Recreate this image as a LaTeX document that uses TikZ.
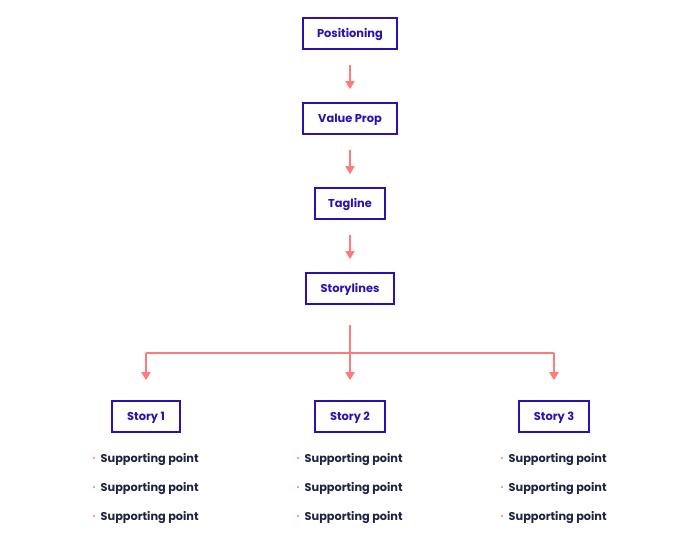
\documentclass[tikz,border=0pt]{standalone}
\usepackage{fontspec}
\setmainfont{Poppins}
\usetikzlibrary{arrows.meta}
\definecolor{boxc}{HTML}{2A12B0}
\definecolor{arrc}{HTML}{FF7A7A}
\definecolor{txtc}{HTML}{1E2340}
\tikzset{
  stepbox/.style={draw=boxc, line width=1.6pt, text=boxc, font=\fontsize{11.4}{13}\selectfont\bfseries, minimum height=31pt, inner xsep=0pt, text height=8.2pt, text depth=0pt, anchor=center},
  conn/.style={draw=arrc, line width=1.6pt, -{Triangle[width=9pt,length=8pt]}},
  line/.style={draw=arrc, line width=1.6pt},
  pt/.style={text=txtc, font=\fontsize{11.3}{13}\selectfont\bfseries, anchor=west, inner sep=0pt, text height=8.2pt, text depth=0pt},
  bul/.style={circle, fill=arrc, inner sep=0pt, minimum size=2.4pt}
}
\begin{document}
\begin{tikzpicture}[x=1pt,y=-1pt]
\useasboundingbox (0,0) rectangle (700,557);
\node[stepbox, minimum width=94pt] (pos) at (350,33.5) {Positioning};
\node[stepbox, minimum width=94pt] (val) at (350,118.5) {Value Prop};
\node[stepbox, minimum width=70pt] (tag) at (350,203.5) {Tagline};
\node[stepbox, minimum width=88pt] (sto) at (350,288.5) {Storylines};
\node[stepbox, minimum width=68pt] (s1) at (146,416.5) {Story 1};
\node[stepbox, minimum width=70pt] (s2) at (350,416.5) {Story 2};
\node[stepbox, minimum width=70pt] (s3) at (554,416.5) {Story 3};

\draw[conn] ([yshift=-15pt]pos.south) -- ([yshift=13pt]val.north);
\draw[conn] ([yshift=-15pt]val.south) -- ([yshift=13pt]tag.north);
\draw[conn] ([yshift=-15pt]tag.south) -- ([yshift=13pt]sto.north);

\coordinate (top) at (350,325);
\coordinate (j1) at (146,353);
\coordinate (j3) at (554,353);
\draw[line] (j1) -- (j3);
\draw[conn] (top) -- ([yshift=20pt]s2.north);
\draw[conn] (j1) -- ([yshift=20pt]s1.north);
\draw[conn] (j3) -- ([yshift=20pt]s3.north);

\foreach \c/\x in {a/94,b/298,c/502}{
  \foreach \r/\y in {1/458,2/487,3/516}{
    \node[bul] (b\c\r) at (\x,\y) {};
    \node[pt] (t\c\r) at (\x+6.5,\y) {Supporting point};
  }
}
\end{tikzpicture}
\end{document}
